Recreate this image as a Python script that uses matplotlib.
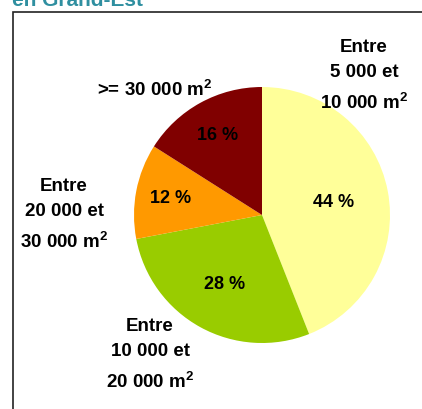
import numpy as np
import matplotlib
matplotlib.use("Agg")
import matplotlib.pyplot as plt
from matplotlib.patches import Rectangle

plt.rcParams['font.family'] = ['Liberation Sans', 'DejaVu Sans']
plt.rcParams['mathtext.fontset'] = 'custom'
plt.rcParams['mathtext.bf'] = 'Liberation Sans:bold'
plt.rcParams['mathtext.rm'] = 'Liberation Sans:bold'

# Répartition par classe de surface
sq = r"m$^{\mathbf{2}}$"
categories = ["Entre\n5 000 et\n10 000 " + sq, "Entre\n10 000 et\n20 000 " + sq,
              "Entre\n20 000 et\n30 000 " + sq, ">= 30 000 " + sq]
shares = [44, 28, 12, 16]
colors = ["#FFFF99", "#99CC00", "#FF9900", "#800000"]

W, H = 422, 410
fig = plt.figure(figsize=(W / 100, H / 100), dpi=100)
ax = fig.add_axes([0, 0, 1, 1])

cx, cy, r = 262, H - 216, 128
wedges, _ = ax.pie(shares, colors=colors, startangle=90, counterclock=False,
                   center=(cx, cy), radius=r, frame=True)
ax.set_xlim(0, W)
ax.set_ylim(0, H)
ax.set_aspect('equal')
ax.axis('off')

# pourcentages dans les parts
pct_dist = [0.57, 0.61, 0.73, 0.72]
ang = 90.0
for val, d in zip(shares, pct_dist):
    span = val / sum(shares) * 360
    mid = np.deg2rad(ang - span / 2)
    ang -= span
    ax.text(cx + d * r * np.cos(mid), cy + d * r * np.sin(mid), f"{val} %",
            ha='center', va='center', fontsize=13, fontweight='bold')

# étiquettes extérieures
label_pos = [(364, 76), (150, 355), (64, 215), (155, 90)]
for lab, (x, y) in zip(categories, label_pos):
    ax.text(x, H - y, lab, ha='center', va='center', fontsize=13.5,
            fontweight='bold', linespacing=1.62)

# cadre et titre
ax.add_patch(Rectangle((12.5, -5), W, H - 12.5 + 5, fill=False,
                       edgecolor='#222222', linewidth=1.2, clip_on=False))
ax.text(12, H - 6, "en Grand-Est", ha='left', va='baseline', fontsize=15,
        fontweight='bold', color='#2F8FA0')

fig.savefig("out.png", dpi=100)
